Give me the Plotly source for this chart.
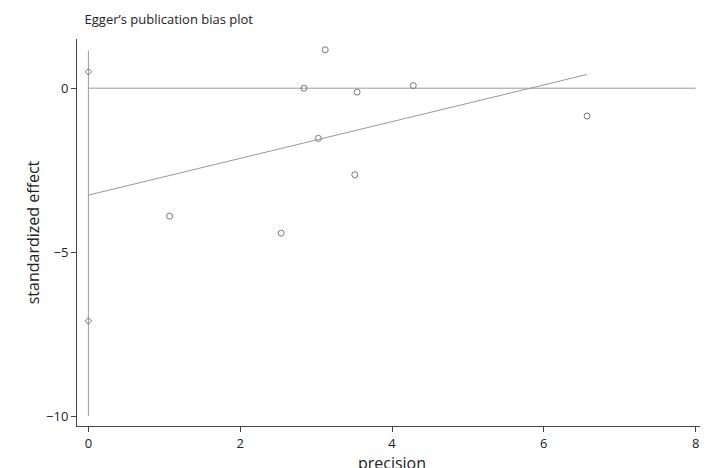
import plotly.graph_objects as go

prec = [2.84, 3.12, 3.54, 4.28, 3.03, 3.51, 1.07, 2.54, 6.57]
std_eff = [0.0, 1.17, -0.12, 0.08, -1.53, -2.64, -3.9, -4.42, -0.85]
ci_y = [0.5, -7.1]
intercept = -3.26
slope = 0.56
x_max = 6.57

fig = go.Figure()
fig.add_trace(go.Scatter(x=[0, 8], y=[0, 0], mode="lines",
                         line=dict(color="#999", width=1), hoverinfo="skip"))
fig.add_trace(go.Scatter(x=[0, 0], y=[1.15, -10], mode="lines",
                         line=dict(color="#999", width=1), hoverinfo="skip"))
fig.add_trace(go.Scatter(x=[0, x_max], y=[intercept, intercept + slope * x_max],
                         mode="lines", line=dict(color="#999", width=1)))
fig.add_trace(go.Scatter(x=prec, y=std_eff, mode="markers",
                         marker=dict(symbol="circle-open", size=6, color="#777", line=dict(width=1))))
fig.add_trace(go.Scatter(x=[0, 0], y=ci_y, mode="markers",
                         marker=dict(symbol="diamond-open", size=5, color="#777", line=dict(width=1))))

fig.update_layout(
    width=708, height=468, showlegend=False,
    plot_bgcolor="white", paper_bgcolor="white",
    font=dict(family="Open Sans", size=13, color="#222"),
    margin=dict(l=69, r=9, t=31, b=50, autoexpand=False),
    title=dict(text="Egger\u2019s publication bias plot", x=0.012, xref="paper", xanchor="left",
               y=0.985, yanchor="top", font=dict(size=13), automargin=False),
    xaxis=dict(range=[-0.15, 8.15], tickvals=[0, 2, 4, 6, 8], showgrid=False, zeroline=False,
               showline=True, linecolor="#444", ticks="outside", ticklen=5, automargin=False,
               title=dict(text="precision", standoff=0)),
    yaxis=dict(range=[-10.3, 1.5], tickvals=[-10, -5, 0], showgrid=False, zeroline=False,
               showline=True, linecolor="#444", ticks="outside", ticklen=5, automargin=False,
               title=dict(text="standardized effect", standoff=2)),
)
fig.write_html("out.html")
